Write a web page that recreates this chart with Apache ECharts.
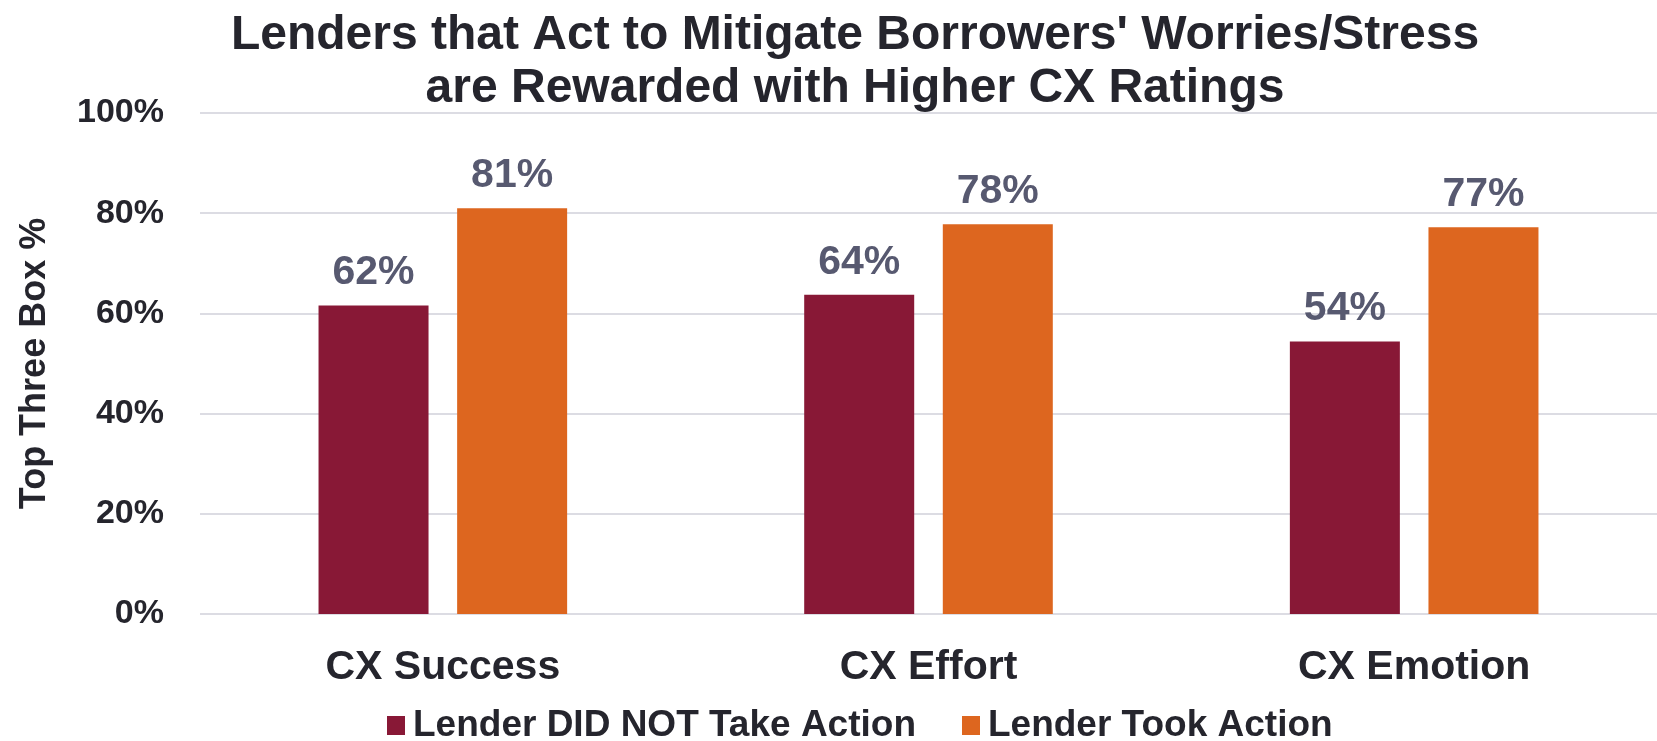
<!DOCTYPE html>
<html>
<head>
<meta charset="utf-8">
<script src="https://cdn.jsdelivr.net/npm/echarts@6/dist/echarts.min.js"></script>
<style>html,body{margin:0;padding:0;background:#fff;}#c{width:1657px;height:741px;}</style>
</head>
<body>
<div id="c"></div>
<script>
const titleText = "Lenders that Act to Mitigate Borrowers' Worries/Stress\nare Rewarded with Higher CX Ratings";
const categories = ['CX Success', 'CX Effort', 'CX Emotion'];
const seriesNames = ['Lender DID NOT Take Action', 'Lender Took Action'];
const notTaken = [61.6, 63.7, 54.4];
const tookAction = [81.0, 77.8, 77.2];
const yTicks = [0, 20, 40, 60, 80, 100];
const yAxisName = 'Top Three Box %';

const FONT = '"Liberation Sans", Arial, sans-serif';
const DARK = '#25252d';
const chart = echarts.init(document.getElementById('c'), null, {renderer: 'canvas'});
chart.setOption({
  animation: false,
  textStyle: {fontFamily: FONT},
  title: {
    text: titleText,
    left: 850, top: 4, textAlign: 'center',
    textStyle: {fontFamily: FONT, fontSize: 48, fontWeight: 'bold', color: DARK, lineHeight: 53}
  },
  legend: {
    data: seriesNames,
    left: 382, top: 702,
    itemWidth: 18, itemHeight: 19, itemGap: 46,
    icon: 'rect',
    textStyle: {fontFamily: FONT, fontSize: 37, fontWeight: 'bold', color: DARK, padding: [0, 0, 0, 3]}
  },
  grid: {left: 200, top: 113, width: 1463, height: 501},
  xAxis: {type: 'category', data: categories,
     axisLine: {show: false}, axisTick: {show: false},
     axisLabel: {fontFamily: FONT, fontSize: 41, fontWeight: 'bold', color: DARK, margin: 33}},
  yAxis: {type: 'value', min: yTicks[0], max: yTicks[yTicks.length - 1], interval: yTicks[1] - yTicks[0],
     axisLine: {show: false}, axisTick: {show: false},
     splitLine: {lineStyle: {color: '#dcdce3', width: 2}},
     axisLabel: {fontFamily: FONT, fontSize: 34, fontWeight: 'bold', color: DARK, margin: 36,
                 formatter: v => v + '%'},
     name: yAxisName, nameLocation: 'middle', nameGap: 147, nameRotate: 90,
     nameTextStyle: {fontFamily: FONT, fontSize: 36, fontWeight: 'bold', color: DARK}},
  series: [
    {name: seriesNames[0], type: 'bar', data: notTaken,
     barWidth: 110, barGap: '26%', itemStyle: {color: '#881836'},
     label: {show: true, position: 'top', distance: 12, fontFamily: FONT, fontSize: 41, fontWeight: 'bold',
             color: '#575970', formatter: p => Math.round(p.value) + '%'}},
    {name: seriesNames[1], type: 'bar', data: tookAction,
     barWidth: 110, barGap: '26%', itemStyle: {color: '#dd661f'},
     label: {show: true, position: 'top', distance: 12, fontFamily: FONT, fontSize: 41, fontWeight: 'bold',
             color: '#575970', formatter: p => Math.round(p.value) + '%'}}
  ]
});
</script>
</body>
</html>
